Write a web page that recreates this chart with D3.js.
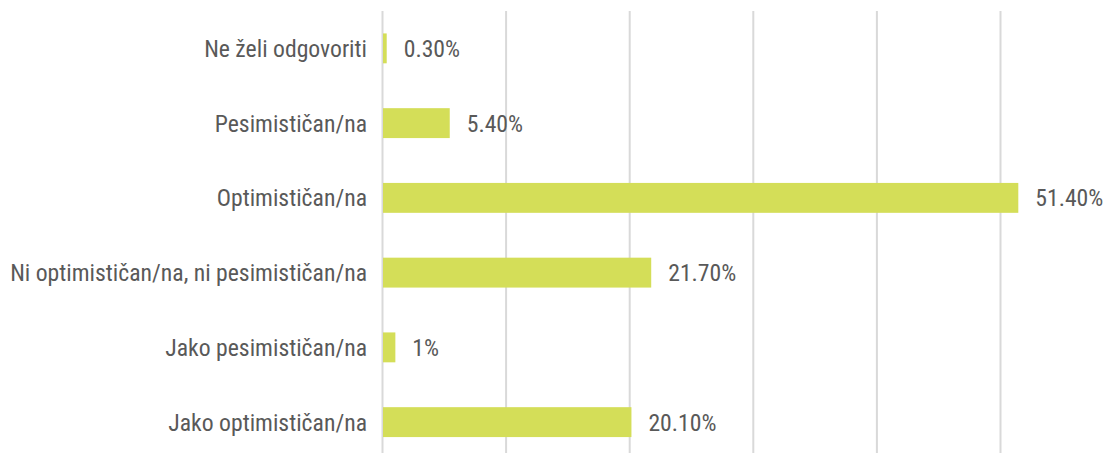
<!DOCTYPE html>
<html>
<head>
	<title></title>
	<script src="https://d3js.org/d3.v7.min.js"></script>
	<style>
		body { margin: 0; background: #fff; }
		text { font-family: 'Roboto Condensed', 'DejaVu Sans Condensed', sans-serif; fill: #595959; }
	</style>
</head>
<body>
	<div id="chart"></div>
	<script type="text/javascript">
		// data...........................
		var categories = [
			'Ne želi odgovoriti',
			'Pesimističan/na',
			'Optimističan/na',
			'Ni optimističan/na, ni pesimističan/na',
			'Jako pesimističan/na',
			'Jako optimističan/na'
		];
		var values = [0.3, 5.4, 51.4, 21.7, 1, 20.1];
		var valueLabels = ['0.30%', '5.40%', '51.40%', '21.70%', '1%', '20.10%'];
		var xTicks = [0, 10, 20, 30, 40, 50, 60];

		var width = 1111;
		var height = 453;
		var margin = { top: 11, left: 382 };

		var svg = d3.select('#chart').append('svg')
			.attr('width', width)
			.attr('height', height);

		// scales..........................
		var xScale = d3.scaleLinear()
			.domain([0, 60])
			.range([margin.left, margin.left + 741.6]);

		var yScale = d3.scaleBand()
			.domain(categories)
			.range([margin.top, 459.5])
			.paddingInner(0.6)
			.paddingOuter(0.3);

		// gridlines.......................
		var grid = d3.axisBottom(xScale)
			.tickValues(xTicks)
			.tickSize(-(460 - margin.top))
			.tickFormat('');

		var gGrid = svg.append('g')
			.attr('transform', 'translate(0,' + 460 + ')')
			.call(grid);
		gGrid.select('.domain').remove();
		gGrid.selectAll('line')
			.style('stroke', '#d9d9d9')
			.style('stroke-width', 2);

		// bars............................
		svg.selectAll('rect.bar')
			.data(values)
			.enter()
			.append('rect')
			.attr('class', 'bar')
			.attr('x', xScale(0) + 1)
			.attr('y', (d, i) => yScale(categories[i]))
			.attr('width', d => xScale(d) - xScale(0))
			.attr('height', yScale.bandwidth())
			.style('fill', '#d4de58');

		// category labels.................
		var yAxis = d3.axisLeft(yScale)
			.tickSize(0)
			.tickPadding(15);
		var gY = svg.append('g')
			.attr('transform', 'translate(' + xScale(0) + ',0)')
			.call(yAxis);
		gY.select('.domain').remove();
		gY.selectAll('text')
			.attr('dy', '0.36em')
			.style('font-size', '23.7px')
			.style('font-family', "'Roboto Condensed', sans-serif")
			.style('fill', '#595959');

		// value labels....................
		svg.selectAll('text.val')
			.data(values)
			.enter()
			.append('text')
			.attr('class', 'val')
			.attr('x', d => xScale(d) + 18)
			.attr('y', (d, i) => yScale(categories[i]) + yScale.bandwidth() / 2)
			.attr('dy', '0.36em')
			.style('font-size', '23.7px')
			.text((d, i) => valueLabels[i]);
	</script>
</body>
</html>
